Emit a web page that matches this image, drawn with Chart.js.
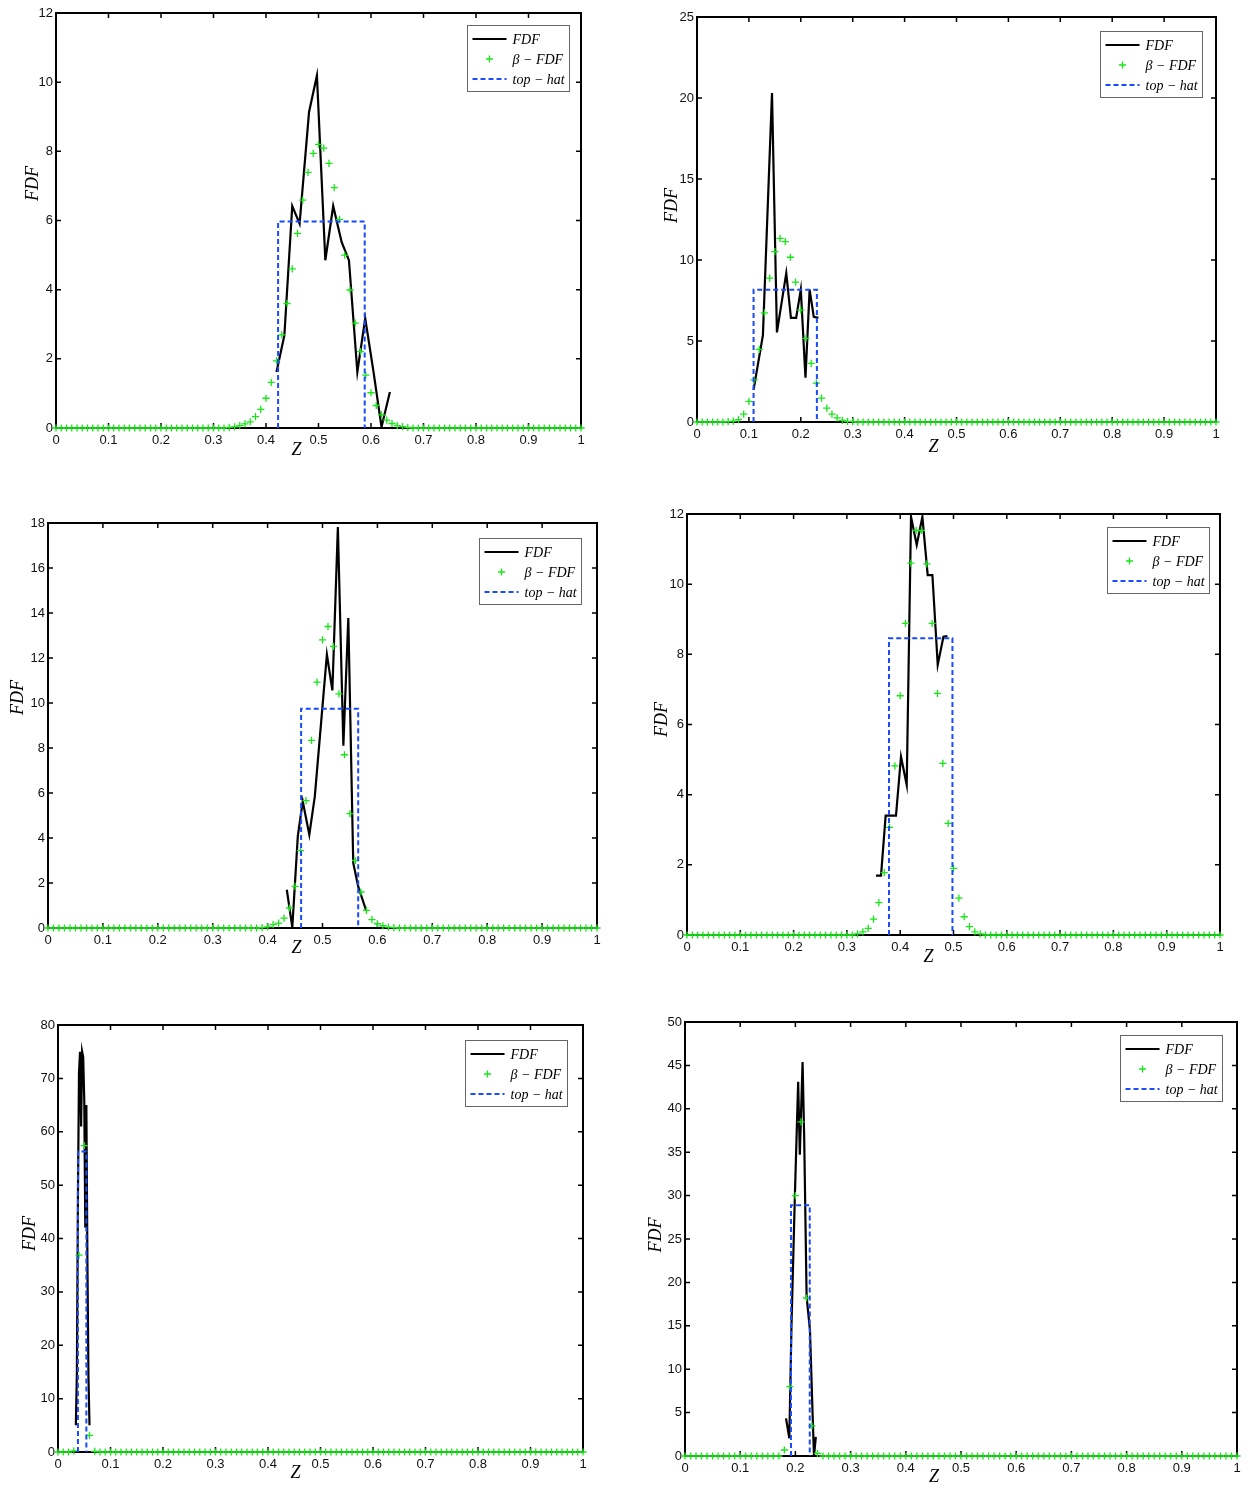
<!DOCTYPE html>
<html>
<head>
<meta charset="utf-8">
<script src="https://cdn.jsdelivr.net/npm/chart.js@4.4.0/dist/chart.umd.min.js"></script>
<style>
  body { margin: 0; background: #fff; width: 1249px; height: 1486px; position: relative; overflow: hidden; }
  canvas { position: absolute; }
</style>
</head>
<body>
<script>
// Mixture fraction grid used by the beta-FDF samples
const zGrid = [
  0.00, 0.01, 0.02, 0.03, 0.04, 0.05, 0.06, 0.07, 0.08, 0.09,
  0.10, 0.11, 0.12, 0.13, 0.14, 0.15, 0.16, 0.17, 0.18, 0.19,
  0.20, 0.21, 0.22, 0.23, 0.24, 0.25, 0.26, 0.27, 0.28, 0.29,
  0.30, 0.31, 0.32, 0.33, 0.34, 0.35, 0.36, 0.37, 0.38, 0.39,
  0.40, 0.41, 0.42, 0.43, 0.44, 0.45, 0.46, 0.47, 0.48, 0.49,
  0.50, 0.51, 0.52, 0.53, 0.54, 0.55, 0.56, 0.57, 0.58, 0.59,
  0.60, 0.61, 0.62, 0.63, 0.64, 0.65, 0.66, 0.67, 0.68, 0.69,
  0.70, 0.71, 0.72, 0.73, 0.74, 0.75, 0.76, 0.77, 0.78, 0.79,
  0.80, 0.81, 0.82, 0.83, 0.84, 0.85, 0.86, 0.87, 0.88, 0.89,
  0.90, 0.91, 0.92, 0.93, 0.94, 0.95, 0.96, 0.97, 0.98, 0.99,
  1.00
];

// beta-FDF values on zGrid, one list per panel
const beta1 = [
  0, 0, 0, 0, 0, 0, 0, 0, 0, 0,
  0, 0, 0, 0, 0, 0, 0, 0, 0, 0,
  0, 0, 0, 0, 0, 0, 0, 0, 0, 0,
  0, 0, 0, 0.02, 0.03, 0.07, 0.12, 0.18, 0.33, 0.54,
  0.86, 1.32, 1.94, 2.69, 3.60, 4.60, 5.63, 6.59, 7.39, 7.94,
  8.20, 8.09, 7.65, 6.95, 6.03, 5.00, 3.99, 3.03, 2.21, 1.53,
  1.02, 0.65, 0.38, 0.23, 0.13, 0.07, 0.04, 0.02, 0, 0,
  0, 0, 0, 0, 0, 0, 0, 0, 0, 0,
  0, 0, 0, 0, 0, 0, 0, 0, 0, 0,
  0, 0, 0, 0, 0, 0, 0, 0, 0, 0,
  0
];
const beta2 = [
  0, 0, 0, 0, 0, 0, 0.02, 0.05, 0.15, 0.49,
  1.27, 2.60, 4.48, 6.73, 8.88, 10.52, 11.34, 11.14, 10.17, 8.64,
  6.90, 5.16, 3.62, 2.40, 1.47, 0.86, 0.49, 0.25, 0.10, 0.04,
  0.02, 0, 0, 0, 0, 0, 0, 0, 0, 0,
  0, 0, 0, 0, 0, 0, 0, 0, 0, 0,
  0, 0, 0, 0, 0, 0, 0, 0, 0, 0,
  0, 0, 0, 0, 0, 0, 0, 0, 0, 0,
  0, 0, 0, 0, 0, 0, 0, 0, 0, 0,
  0, 0, 0, 0, 0, 0, 0, 0, 0, 0,
  0, 0, 0, 0, 0, 0, 0, 0, 0, 0,
  0
];
const beta3 = [
  0, 0, 0, 0, 0, 0, 0, 0, 0, 0,
  0, 0, 0, 0, 0, 0, 0, 0, 0, 0,
  0, 0, 0, 0, 0, 0, 0, 0, 0, 0,
  0, 0, 0, 0, 0, 0, 0, 0, 0, 0.02,
  0.05, 0.15, 0.22, 0.44, 0.89, 1.85, 3.44, 5.66, 8.34, 10.93,
  12.81, 13.40, 12.52, 10.41, 7.70, 5.08, 3.00, 1.60, 0.78, 0.37,
  0.19, 0.10, 0.04, 0.02, 0, 0, 0, 0, 0, 0,
  0, 0, 0, 0, 0, 0, 0, 0, 0, 0,
  0, 0, 0, 0, 0, 0, 0, 0, 0, 0,
  0, 0, 0, 0, 0, 0, 0, 0, 0, 0,
  0
];
const beta4 = [
  0, 0, 0, 0, 0, 0, 0, 0, 0, 0,
  0, 0, 0, 0, 0, 0, 0, 0, 0, 0,
  0, 0, 0, 0, 0, 0, 0, 0, 0, 0,
  0, 0, 0.03, 0.09, 0.19, 0.45, 0.92, 1.78, 3.07, 4.82,
  6.82, 8.88, 10.60, 11.53, 11.53, 10.58, 8.88, 6.89, 4.89, 3.18,
  1.90, 1.05, 0.52, 0.24, 0.09, 0.03, 0, 0, 0, 0,
  0, 0, 0, 0, 0, 0, 0, 0, 0, 0,
  0, 0, 0, 0, 0, 0, 0, 0, 0, 0,
  0, 0, 0, 0, 0, 0, 0, 0, 0, 0,
  0, 0, 0, 0, 0, 0, 0, 0, 0, 0,
  0
];
const beta5 = [
  0, 0, 0, 0.2, 36.9, 57.4, 3.1, 0.1, 0, 0,
  0, 0, 0, 0, 0, 0, 0, 0, 0, 0,
  0, 0, 0, 0, 0, 0, 0, 0, 0, 0,
  0, 0, 0, 0, 0, 0, 0, 0, 0, 0,
  0, 0, 0, 0, 0, 0, 0, 0, 0, 0,
  0, 0, 0, 0, 0, 0, 0, 0, 0, 0,
  0, 0, 0, 0, 0, 0, 0, 0, 0, 0,
  0, 0, 0, 0, 0, 0, 0, 0, 0, 0,
  0, 0, 0, 0, 0, 0, 0, 0, 0, 0,
  0, 0, 0, 0, 0, 0, 0, 0, 0, 0,
  0
];
const beta6 = [
  0, 0, 0, 0, 0, 0, 0, 0, 0, 0,
  0, 0, 0, 0, 0, 0, 0, 0, 0.69, 7.99,
  30.0, 38.5, 18.2, 3.46, 0.3, 0, 0, 0, 0, 0,
  0, 0, 0, 0, 0, 0, 0, 0, 0, 0,
  0, 0, 0, 0, 0, 0, 0, 0, 0, 0,
  0, 0, 0, 0, 0, 0, 0, 0, 0, 0,
  0, 0, 0, 0, 0, 0, 0, 0, 0, 0,
  0, 0, 0, 0, 0, 0, 0, 0, 0, 0,
  0, 0, 0, 0, 0, 0, 0, 0, 0, 0,
  0, 0, 0, 0, 0, 0, 0, 0, 0, 0,
  0
];

// FDF samples (black lines)
const zFdf1 = [0.420, 0.435, 0.450, 0.464, 0.482, 0.497, 0.513, 0.528, 0.544, 0.558, 0.574, 0.589, 0.605, 0.620, 0.636];
const fdf1  = [1.62, 2.68, 6.42, 5.91, 9.14, 10.19, 4.85, 6.42, 5.38, 4.85, 1.62, 3.17, 1.60, 0.03, 1.04];
const zFdf2 = [0.109, 0.127, 0.1445, 0.154, 0.172, 0.181, 0.191, 0.200, 0.209, 0.217, 0.225, 0.234];
const fdf2  = [1.98, 5.36, 20.3, 5.53, 9.19, 6.43, 6.43, 8.17, 2.74, 8.17, 6.49, 6.43];
const zFdf3 = [0.435, 0.445, 0.455, 0.464, 0.476, 0.486, 0.508, 0.518, 0.528, 0.538, 0.547, 0.556, 0.565, 0.579];
const fdf3  = [1.70, 0.03, 4.07, 5.63, 4.15, 5.85, 12.15, 10.56, 17.82, 8.10, 13.78, 2.89, 1.85, 0.81];
const zFdf4 = [0.3546, 0.364, 0.3727, 0.3921, 0.4015, 0.4122, 0.4203, 0.431, 0.4416, 0.4516, 0.4604, 0.4704, 0.4811, 0.4886];
const fdf4  = [1.69, 1.69, 3.40, 3.40, 5.08, 4.28, 11.92, 11.12, 11.92, 10.26, 10.26, 7.70, 8.50, 8.52];
const zFdf5 = [0.034, 0.036, 0.038, 0.040, 0.042, 0.044, 0.046, 0.048, 0.050, 0.052, 0.054, 0.056, 0.058, 0.060];
const fdf5  = [5, 15, 48, 71, 75, 61, 75, 74, 66, 42, 65, 36, 14, 5];
const zFdf6 = [0.183, 0.189, 0.193, 0.199, 0.205, 0.208, 0.213, 0.216, 0.2203, 0.2264, 0.2313, 0.2337, 0.237];
const fdf6  = [4.34, 2.04, 15.3, 29.9, 43.1, 34.7, 45.4, 36.4, 18.35, 14.5, 4.53, 0, 2.2];

// top-hat FDF corners
const hatZ1 = [0.423, 0.423, 0.588, 0.588];  const hatY1 = [0, 5.97, 5.97, 0];
const hatZ2 = [0.109, 0.109, 0.231, 0.231];  const hatY2 = [0, 8.17, 8.17, 0];
const hatZ3 = [0.461, 0.461, 0.565, 0.565];  const hatY3 = [0, 9.75, 9.75, 0];
const hatZ4 = [0.379, 0.379, 0.498, 0.498];  const hatY4 = [0, 8.46, 8.46, 0];
const hatZ5 = [0.038, 0.038, 0.054, 0.054];  const hatY5 = [0, 56.3, 56.3, 0];
const hatZ6 = [0.192, 0.192, 0.226, 0.226];  const hatY6 = [0, 28.9, 28.9, 0];

const seriesLabels = ['FDF', 'β − FDF', 'top − hat'];

const GREEN = 'rgb(25, 230, 25)';
const BLUE = 'rgb(25, 75, 255)';
const SANS = "'Liberation Sans', Arial, sans-serif";
const SERIF = "'Liberation Serif', 'Times New Roman', serif";

// panel layout: plot box [left, top, right, bottom] in page pixels
const panels = [
  { box: [56, 13, 581, 428],    yMax: 12, yStep: 2,  zFdf: zFdf1, fdf: fdf1, beta: beta1, hatZ: hatZ1, hatY: hatY1,
    zDx: -22, zDy: 22, fDx: -23, fDy: -37, legR: 12, legT: 12 },
  { box: [697, 17, 1216, 422],  yMax: 25, yStep: 5,  zFdf: zFdf2, fdf: fdf2, beta: beta2, hatZ: hatZ2, hatY: hatY2,
    zDx: -23, zDy: 25, fDx: -25, fDy: -14, legR: 14, legT: 14 },
  { box: [48, 523, 597, 928],   yMax: 18, yStep: 2,  zFdf: zFdf3, fdf: fdf3, beta: beta3, hatZ: hatZ3, hatY: hatY3,
    zDx: -26, zDy: 20, fDx: -30, fDy: -28, legR: 16, legT: 15 },
  { box: [687, 514, 1220, 935], yMax: 12, yStep: 2,  zFdf: zFdf4, fdf: fdf4, beta: beta4, hatZ: hatZ4, hatY: hatY4,
    zDx: -25, zDy: 22, fDx: -25, fDy: -5, legR: 11, legT: 13 },
  { box: [58, 1025, 583, 1452], yMax: 80, yStep: 10, zFdf: zFdf5, fdf: fdf5, beta: beta5, hatZ: hatZ5, hatY: hatY5,
    zDx: -25, zDy: 21, fDx: -28, fDy: -5, legR: 16, legT: 15 },
  { box: [685, 1022, 1237, 1456], yMax: 50, yStep: 5, zFdf: zFdf6, fdf: fdf6, beta: beta6, hatZ: hatZ6, hatY: hatY6,
    zDx: -27, zDy: 21, fDx: -29, fDy: -4, legR: 15, legT: 13 },
];

const PAD_L = 50, PAD_T = 12, PAD_R = 12, PAD_B = 40;

// MATLAB style frame: full box with inward ticks on all four sides
const matlabFrame = {
  id: 'matlabFrame',
  beforeDatasetsDraw(chart) {
    const { ctx, chartArea: a, scales: { x, y } } = chart;
    ctx.save();
    ctx.strokeStyle = '#000';
    ctx.lineWidth = 1.5;
    ctx.beginPath();
    x.ticks.forEach((t) => {
      const px = x.getPixelForValue(t.value);
      ctx.moveTo(px, a.bottom); ctx.lineTo(px, a.bottom - 5);
      ctx.moveTo(px, a.top); ctx.lineTo(px, a.top + 5);
    });
    y.ticks.forEach((t) => {
      const py = y.getPixelForValue(t.value);
      ctx.moveTo(a.left, py); ctx.lineTo(a.left + 5, py);
      ctx.moveTo(a.right, py); ctx.lineTo(a.right - 5, py);
    });
    ctx.stroke();
    ctx.lineWidth = 2;
    ctx.strokeRect(a.left, a.top, a.right - a.left, a.bottom - a.top);
    ctx.restore();
  },
  afterDraw(chart, args, opts) {
    const { ctx, chartArea: a } = chart;
    ctx.save();
    ctx.fillStyle = '#000';
    ctx.font = `italic 18px ${SERIF}`;
    ctx.textAlign = 'center';
    ctx.textBaseline = 'middle';
    ctx.fillText('Z', (a.left + a.right) / 2 + opts.zDx, a.bottom + opts.zDy);
    ctx.save();
    ctx.translate(a.left + opts.fDx, (a.top + a.bottom) / 2 + opts.fDy);
    ctx.rotate(-Math.PI / 2);
    ctx.fillText('FDF', 0, 0);
    ctx.restore();

    // legend box in the upper right corner
    const w = 102, h = 66;
    const x0 = Math.round(a.right - opts.legR - w) + 0.5;
    const y0 = Math.round(a.top + opts.legT) + 0.5;
    ctx.fillStyle = '#fff';
    ctx.fillRect(x0, y0, w, h);
    ctx.strokeStyle = '#666';
    ctx.lineWidth = 1;
    ctx.strokeRect(x0, y0, w, h);
    ctx.font = `italic 14px ${SERIF}`;
    ctx.textAlign = 'left';
    chart.data.datasets.forEach((ds, i) => {
      const ry = y0 + 13.5 + i * 20;
      if (ds.showLine) {
        ctx.beginPath();
        ctx.strokeStyle = ds.borderColor;
        ctx.lineWidth = ds.borderWidth;
        ctx.setLineDash(ds.borderDash || []);
        ctx.moveTo(x0 + 5, ry); ctx.lineTo(x0 + 39, ry);
        ctx.stroke();
        ctx.setLineDash([]);
      } else {
        ctx.beginPath();
        ctx.strokeStyle = ds.borderColor;
        ctx.lineWidth = 1.3;
        ctx.moveTo(x0 + 18.5, ry); ctx.lineTo(x0 + 25.5, ry);
        ctx.moveTo(x0 + 22, ry - 3.5); ctx.lineTo(x0 + 22, ry + 3.5);
        ctx.stroke();
      }
      ctx.fillStyle = '#000';
      ctx.fillText(ds.label, x0 + 45, ry + 1);
    });
    ctx.restore();
  },
};

panels.forEach((p) => {
  const [L, T, R, B] = p.box;
  const canvas = document.createElement('canvas');
  canvas.width = (R - L) + PAD_L + PAD_R;
  canvas.height = (B - T) + PAD_T + PAD_B;
  canvas.style.left = (L - PAD_L) + 'px';
  canvas.style.top = (T - PAD_T) + 'px';
  document.body.appendChild(canvas);

  new Chart(canvas.getContext('2d'), {
    type: 'scatter',
    data: {
      datasets: [
        {
          label: seriesLabels[0],
          data: p.zFdf.map((z, i) => ({ x: z, y: p.fdf[i] })),
          showLine: true,
          borderColor: '#000',
          borderWidth: 2.2,
          pointRadius: 0,
          tension: 0,
          order: 3,
        },
        {
          label: seriesLabels[1],
          data: zGrid.map((z, i) => ({ x: z, y: p.beta[i] })),
          showLine: false,
          borderColor: GREEN,
          backgroundColor: GREEN,
          pointStyle: 'cross',
          pointRadius: 3.6,
          pointBorderWidth: 1.3,
          clip: false,
          order: 2,
        },
        {
          label: seriesLabels[2],
          data: p.hatZ.map((z, i) => ({ x: z, y: p.hatY[i] })),
          showLine: true,
          borderColor: BLUE,
          borderWidth: 2,
          borderDash: [5, 3],
          pointRadius: 0,
          tension: 0,
          order: 1,
        },
      ],
    },
    options: {
      responsive: false,
      devicePixelRatio: 1,
      animation: false,
      layout: { padding: { left: 0, top: PAD_T, right: PAD_R, bottom: 0 } },
      plugins: {
        legend: { display: false },
        tooltip: { enabled: false },
        matlabFrame: { zDx: p.zDx, zDy: p.zDy, fDx: p.fDx, fDy: p.fDy, legR: p.legR, legT: p.legT },
      },
      scales: {
        x: {
          type: 'linear',
          min: 0,
          max: 1,
          grid: { display: false, drawTicks: false },
          border: { display: false },
          ticks: {
            stepSize: 0.1,
            autoSkip: false,
            maxRotation: 0,
            padding: 5,
            color: '#111',
            font: { family: SANS, size: 13 },
            callback: (v) => String(+v.toFixed(1)),
          },
          afterFit: (scale) => { scale.height = PAD_B; },
        },
        y: {
          min: 0,
          max: p.yMax,
          grid: { display: false, drawTicks: false },
          border: { display: false },
          ticks: {
            stepSize: p.yStep,
            padding: 3,
            color: '#111',
            font: { family: SANS, size: 13 },
          },
          afterFit: (scale) => { scale.width = PAD_L; },
        },
      },
    },
    plugins: [matlabFrame],
  });
});
</script>
</body>
</html>
